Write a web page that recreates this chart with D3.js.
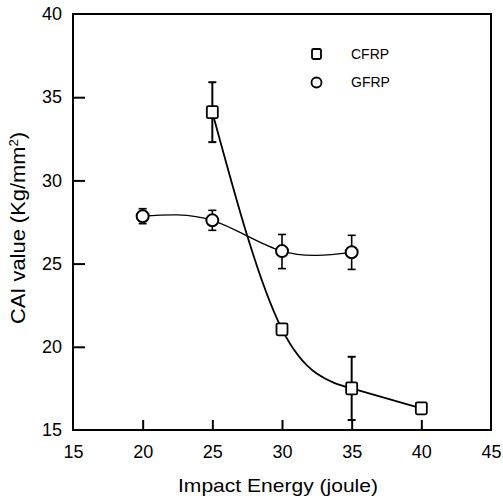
<!DOCTYPE html>
<html>
<head>
<meta charset="utf-8">
<script src="https://cdn.jsdelivr.net/npm/d3@7/dist/d3.min.js"></script>
<style>
  html, body { margin: 0; padding: 0; background: #fff; }
  svg { display: block; font-family: "Liberation Sans", Arial, sans-serif; }
</style>
</head>
<body>
<svg id="chart" width="503" height="501"></svg>
<script>
// ---- data ----
const cfrpX = [25, 30, 35, 40];
const cfrpY = [34.1, 21.05, 17.5, 16.3];
const cfrpErrLow = [32.3, 21.05, 15.6, 16.3];
const cfrpErrHigh = [35.9, 21.05, 19.4, 16.3];
const gfrpX = [20, 25, 30, 35];
const gfrpY = [27.85, 27.6, 25.75, 25.68];
const gfrpErrLow = [27.4, 27.0, 24.7, 24.65];
const gfrpErrHigh = [28.3, 28.2, 26.75, 26.7];
const xTicks = [15, 20, 25, 30, 35, 40, 45];
const yTicks = [15, 20, 25, 30, 35, 40];
const seriesNames = ["CFRP", "GFRP"];

// ---- layout ----
const svg = d3.select("#chart");
const mLeft = 73, mRight = 491, mTop = 14, mBottom = 430;
const x = d3.scaleLinear().domain([15, 45]).range([mLeft, mRight]);
const y = d3.scaleLinear().domain([15, 40]).range([mBottom, mTop]);

// axes
const xAxis = svg.append("g")
  .attr("transform", `translate(0,${mBottom})`)
  .call(d3.axisBottom(x).tickValues(xTicks).tickSizeInner(-10).tickSizeOuter(0).tickPadding(15));
const yAxis = svg.append("g")
  .attr("transform", `translate(${mLeft},0)`)
  .call(d3.axisLeft(y).tickValues(yTicks).tickSizeInner(-12).tickSizeOuter(0).tickPadding(11));

[xAxis, yAxis].forEach(g => {
  g.select(".domain").remove();
  g.selectAll(".tick line").attr("stroke", "#000").attr("stroke-width", 2);
  g.selectAll(".tick text").attr("fill", "#000").style("font-size", "18px")
    .style("font-family", "Liberation Sans, Arial, sans-serif");
});
xAxis.selectAll(".tick").filter(d => d === 15 || d === 45).select("line").remove();
yAxis.selectAll(".tick").filter(d => d === 15 || d === 40).select("line").remove();

// frame
svg.append("rect")
  .attr("x", mLeft).attr("y", mTop)
  .attr("width", mRight - mLeft).attr("height", mBottom - mTop)
  .attr("fill", "none").attr("stroke", "#000").attr("stroke-width", 2);

// axis titles
svg.append("text")
  .attr("x", (mLeft + mRight) / 2 - 4).attr("y", 492)
  .attr("text-anchor", "middle")
  .attr("textLength", 200).attr("lengthAdjust", "spacingAndGlyphs")
  .style("font-size", "19px")
  .text("Impact Energy (joule)");

const yt = svg.append("text")
  .attr("transform", `translate(25,228) rotate(-90)`)
  .attr("text-anchor", "middle")
  .attr("textLength", 192).attr("lengthAdjust", "spacingAndGlyphs")
  .style("font-size", "20px");
yt.append("tspan").text("CAI value (Kg/mm");
yt.append("tspan").attr("dy", -7).style("font-size", "12px").text("2");
yt.append("tspan").attr("dy", 7).text(")");

// curves
const line = d3.line().curve(d3.curveNatural).x(d => x(d[0])).y(d => y(d[1]));
svg.append("path")
  .datum(cfrpX.map((v, i) => [v, cfrpY[i]]))
  .attr("d", line).attr("fill", "none").attr("stroke", "#000").attr("stroke-width", 1.8);
svg.append("path")
  .datum(gfrpX.map((v, i) => [v, gfrpY[i]]))
  .attr("d", line).attr("fill", "none").attr("stroke", "#000").attr("stroke-width", 1.3);

// error bars
function errorBars(xs, lo, hi, w) {
  const g = svg.append("g").attr("stroke", "#000").attr("stroke-width", w);
  xs.forEach((v, i) => {
    if (hi[i] - lo[i] < 0.01) return;
    g.append("line").attr("x1", x(v)).attr("x2", x(v)).attr("y1", y(lo[i])).attr("y2", y(hi[i]));
    g.append("line").attr("x1", x(v) - 4).attr("x2", x(v) + 4).attr("y1", y(lo[i])).attr("y2", y(lo[i]));
    g.append("line").attr("x1", x(v) - 4).attr("x2", x(v) + 4).attr("y1", y(hi[i])).attr("y2", y(hi[i]));
  });
}
errorBars(cfrpX, cfrpErrLow, cfrpErrHigh, 2);
errorBars(gfrpX, gfrpErrLow, gfrpErrHigh, 1.6);

// markers
svg.append("g").selectAll("rect")
  .data(cfrpX.map((v, i) => [v, cfrpY[i]]))
  .join("rect")
  .attr("x", d => x(d[0]) - 5.5).attr("y", d => y(d[1]) - 6)
  .attr("width", 11).attr("height", 12).attr("rx", 1.5)
  .attr("fill", "#fff").attr("stroke", "#000").attr("stroke-width", 1.8);
svg.append("g").selectAll("circle")
  .data(gfrpX.map((v, i) => [v, gfrpY[i]]))
  .join("circle")
  .attr("cx", d => x(d[0])).attr("cy", d => y(d[1])).attr("r", 6)
  .attr("fill", "#fff").attr("stroke", "#000").attr("stroke-width", 2);

// legend
const lg = svg.append("g");
lg.append("rect").attr("x", 312).attr("y", 49).attr("width", 9).attr("height", 10).attr("rx", 1.5)
  .attr("fill", "#fff").attr("stroke", "#000").attr("stroke-width", 1.8);
lg.append("circle").attr("cx", 316.5).attr("cy", 82.5).attr("r", 5)
  .attr("fill", "#fff").attr("stroke", "#000").attr("stroke-width", 1.8);
lg.append("text").attr("x", 351).attr("y", 58.5).style("font-size", "14px").text(seriesNames[0]);
lg.append("text").attr("x", 351).attr("y", 87).style("font-size", "14px").text(seriesNames[1]);
</script>
</body>
</html>
